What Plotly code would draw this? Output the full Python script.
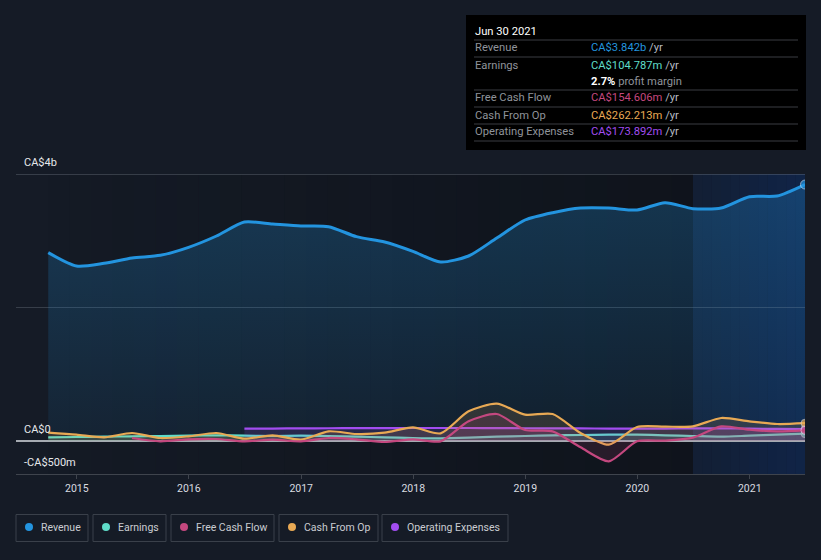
import plotly.graph_objects as go

# ---------------- data (CA$ millions) ----------------
quarters = ["2014-09-30", "2014-12-31", "2015-03-31", "2015-06-30", "2015-09-30", "2015-12-31",
            "2016-03-31", "2016-06-30", "2016-09-30", "2016-12-31", "2017-03-31", "2017-06-30",
            "2017-09-30", "2017-12-31", "2018-03-31", "2018-06-30", "2018-09-30", "2018-12-31",
            "2019-03-31", "2019-06-30", "2019-09-30", "2019-12-31", "2020-03-31", "2020-06-30",
            "2020-09-30", "2020-12-31", "2021-03-31", "2021-06-30"]
revenue = [2820, 2620, 2660, 2740, 2780, 2900, 3070, 3280, 3250, 3220, 3210, 3060, 2980, 2840,
           2680, 2770, 3040, 3310, 3420, 3490, 3490, 3460, 3570, 3480, 3490, 3660, 3670, 3842]
earnings = [50, 55, 60, 65, 70, 75, 80, 75, 70, 75, 70, 60, 50, 40,
            35, 45, 60, 70, 80, 85, 90, 90, 80, 70, 60, 75, 90, 104.8]
fcf_quarters = quarters[3:]
free_cash_flow = [40, -10, 20, 25, -10, 15, -10, 40, 20, -20, 20, -10, 290, 400, 160, 140,
                  -100, -310, -10, 0, 45, 215, 165, 140, 154.6]
cash_from_op = [120, 90, 50, 115, 40, 65, 115, 30, 80, 15, 140, 100, 120, 200, 110, 440,
                555, 390, 400, 115, -60, 205, 210, 215, 340, 290, 250, 262.2]
opex_quarters = quarters[7:]
operating_expenses = [180, 182, 184, 186, 188, 188, 190, 190, 190, 188, 186, 185, 183, 182,
                      180, 180, 185, 185, 180, 176, 173.9]

year_ticks = ["2015-01-01", "2016-01-01", "2017-01-01", "2018-01-01", "2019-01-01",
              "2020-01-01", "2021-01-01"]
year_labels = ["2015", "2016", "2017", "2018", "2019", "2020", "2021"]
y_ticks = [-500, 0, 2000, 4000]
y_labels = ["-CA$500m", "CA$0", "", "CA$4b"]

series_names = ["Revenue", "Earnings", "Free Cash Flow", "Cash From Op", "Operating Expenses"]
tooltip_date = "Jun 30 2021"
tooltip_values = ["CA$3.842b", "CA$104.787m", "CA$154.606m", "CA$262.213m", "CA$173.892m"]
profit_margin = "2.7%"

# ---------------- style ----------------
BG = "#151b26"
C_REV = "#2394df"
C_EARN = "#5fdcc9"
C_FCF = "#c4487f"
C_CFO = "#e8a954"
C_OPEX = "#a24df0"
FONT = "Roboto, 'Open Sans', sans-serif"

W, H = 821, 560
Y_MIN, Y_TOP, Y_MAX = -500, 4000, 4300
ML, MR, MB = 16, 16, 86
PH = 300 * (Y_MAX - Y_MIN) / (Y_TOP - Y_MIN)
MT = H - MB - PH
PW = W - ML - MR


def px(x):
    return (x - ML) / PW


def py(y):
    return (H - MB - y) / PH


def rgba(hex_c, a):
    h = hex_c.lstrip("#")
    r, g, b = int(h[0:2], 16), int(h[2:4], 16), int(h[4:6], 16)
    return f"rgba({r},{g},{b},{a})"


fig = go.Figure()


def end_marker_sizes(n, s=8):
    return [0] * (n - 1) + [s]


fig.add_trace(go.Scatter(
    x=quarters, y=revenue, mode="lines+markers", name="Revenue",
    line=dict(color=C_REV, width=3, shape="spline", smoothing=0.7),
    marker=dict(size=end_marker_sizes(len(revenue), 9), color=C_REV,
                line=dict(color="rgba(230,240,255,0.8)", width=1)),
    fill="tozeroy",
    fillgradient=dict(type="vertical", start=0, stop=3900,
                      colorscale=[[0, rgba(C_REV, 0.08)], [1, rgba(C_REV, 0.27)]]),
    hoverinfo="skip", showlegend=False))

for xs, ys, col, nm in [
    (quarters, earnings, C_EARN, "Earnings"),
    (opex_quarters, operating_expenses, C_OPEX, "Operating Expenses"),
    (quarters, cash_from_op, C_CFO, "Cash From Op"),
    (fcf_quarters, free_cash_flow, C_FCF, "Free Cash Flow"),
]:
    fig.add_trace(go.Scatter(
        x=xs, y=ys, mode="lines+markers", name=nm,
        line=dict(color=col, width=2.2, shape="spline", smoothing=0.7),
        marker=dict(size=end_marker_sizes(len(ys), 8), color=col,
                    line=dict(color="rgba(230,240,255,0.7)", width=1)),
        fill="tozeroy", fillcolor=rgba(col, 0.14),
        hoverinfo="skip", showlegend=False))

shapes = []
# darkening overlay (horizontal gradient) over the past-data region
x0, x1 = 48, 693
n = 30
for i in range(n):
    a = 0.02 + 0.32 * (i / (n - 1))
    shapes.append(dict(type="rect", xref="paper", yref="y",
                       x0=px(x0 + (x1 - x0) * i / n), x1=px(x0 + (x1 - x0) * (i + 1) / n),
                       y0=Y_MIN, y1=Y_TOP, fillcolor=f"rgba(5,6,9,{a:.3f})", line=dict(width=0),
                       layer="below"))
# highlighted last-year region
x0, x1 = 693, 805
n = 12
for i in range(n):
    a = 0.18 + 0.22 * (i / (n - 1))
    shapes.append(dict(type="rect", xref="paper", yref="y",
                       x0=px(x0 + (x1 - x0) * i / n), x1=px(x0 + (x1 - x0) * (i + 1) / n),
                       y0=Y_MIN, y1=Y_TOP, fillcolor=f"rgba(10,50,120,{a:.3f})", line=dict(width=0),
                       layer="below"))

annotations = []

# tooltip panel
shapes.append(dict(type="rect", xref="paper", yref="paper", x0=px(466), x1=px(806),
                   y0=py(150), y1=py(15), fillcolor="#000000", line=dict(width=0)))
for sy in [40, 57, 90, 107, 124, 141]:
    shapes.append(dict(type="line", xref="paper", yref="paper", x0=px(474), x1=px(798),
                       y0=py(sy), y1=py(sy), line=dict(color="#3b3d42", width=1)))
annotations.append(dict(xref="paper", yref="paper", x=px(473), y=py(31), xanchor="left",
                        yanchor="middle", text=tooltip_date, showarrow=False,
                        font=dict(color="#ffffff", size=11.2, family=FONT)))
rows_y = [48, 65, 98, 115, 132]
row_cols = [C_REV, C_EARN, C_FCF, C_CFO, C_OPEX]
for name, val, col, ry in zip(series_names, tooltip_values, row_cols, rows_y):
    annotations.append(dict(xref="paper", yref="paper", x=px(473), y=py(ry), xanchor="left",
                            yanchor="middle", text=name, showarrow=False,
                            font=dict(color="#8f939a", size=11.2, family=FONT)))
    annotations.append(dict(xref="paper", yref="paper", x=px(589), y=py(ry), xanchor="left",
                            yanchor="middle",
                            text=f"<span style='color:{col}'>{val}</span> /yr",
                            showarrow=False, font=dict(color="#b8bcc2", size=11.2, family=FONT)))
annotations.append(dict(xref="paper", yref="paper", x=px(589), y=py(81), xanchor="left",
                        yanchor="middle",
                        text=f"<b><span style='color:#ffffff'>{profit_margin}</span></b> profit margin",
                        showarrow=False, font=dict(color="#8f939a", size=11.2, family=FONT)))

# legend boxes
legend_boxes = [(16, 88), (93, 166), (171, 274), (279, 378), (382, 508)]
legend_cols = [C_REV, C_EARN, C_FCF, C_CFO, C_OPEX]
for (bx0, bx1), col, nm in zip(legend_boxes, legend_cols, series_names):
    shapes.append(dict(type="rect", xref="paper", yref="paper", x0=px(bx0), x1=px(bx1),
                       y0=py(541.5), y1=py(514.5), fillcolor="rgba(0,0,0,0)",
                       line=dict(color="#3a404a", width=1)))
    shapes.append(dict(type="circle", xref="paper", yref="paper", x0=px(bx0 + 9), x1=px(bx0 + 17),
                       y0=py(531), y1=py(523), fillcolor=col, line=dict(width=0)))
    annotations.append(dict(xref="paper", yref="paper", x=px(bx0 + 23), y=py(527.5),
                            xanchor="left", yanchor="middle", text=nm, showarrow=False,
                            font=dict(color="#c9ccd1", size=10.5, family=FONT)))

fig.update_layout(
    width=W, height=H, margin=dict(l=ML, r=MR, t=MT, b=MB),
    paper_bgcolor=BG, plot_bgcolor=BG,
    font=dict(family=FONT, color="#d9dce0", size=11),
    shapes=shapes, annotations=annotations, showlegend=False,
    xaxis=dict(type="date", range=["2014-06-17", "2021-06-30"], tickvals=year_ticks,
               ticktext=year_labels, showgrid=False, zeroline=False, showline=True,
               linecolor="#3f444d", linewidth=1, ticks="outside", ticklen=4,
               tickcolor="#3f444d", tickfont=dict(size=10.5, color="#d9dce0")),
    yaxis=dict(range=[Y_MIN, Y_MAX], tickvals=y_ticks, ticktext=y_labels,
               ticklabelposition="inside top", ticklabelstandoff=5, ticklabelshift=-4,
               showgrid=True,
               gridcolor="rgba(120,128,140,0.35)", gridwidth=1, zeroline=True,
               zerolinecolor="#a6abb2", zerolinewidth=1.5, showline=False, ticks="",
               tickfont=dict(size=11, color="#e6e8eb")),
)

fig.write_html(
    "out.html",
    config={"displayModeBar": False},
    post_script=f"document.body.style.margin='0';document.body.style.background='{BG}';"
                "document.documentElement.style.overflow='hidden';",
)
